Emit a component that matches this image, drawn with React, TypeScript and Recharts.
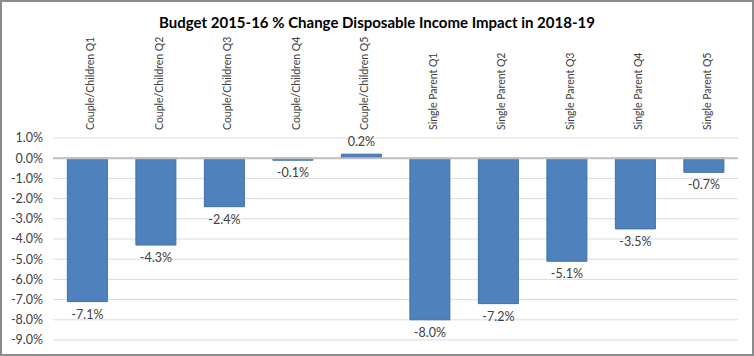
import { BarChart, Bar, XAxis, YAxis, CartesianGrid, ReferenceLine, LabelList } from "recharts";

// categories and values
const categories = [
  "Couple/Children Q1",
  "Couple/Children Q2",
  "Couple/Children Q3",
  "Couple/Children Q4",
  "Couple/Children Q5",
  "Single Parent Q1",
  "Single Parent Q2",
  "Single Parent Q3",
  "Single Parent Q4",
  "Single Parent Q5",
];
const changes = [-7.1, -4.3, -2.4, -0.1, 0.2, -8.0, -7.2, -5.1, -3.5, -0.7];
const yTicks = [1, 0, -1, -2, -3, -4, -5, -6, -7, -8, -9];

const data = categories.map((name, i) => ({ name, change: changes[i] }));

const FONT = "Lato, 'Open Sans', sans-serif";
const TEXT = "#404040";

const fmt = (v: number) => `${v.toFixed(1)}%`;

function CategoryTick(props: any) {
  const { x, y, payload } = props;
  const tx = x + 3;
  return (
    <text
      x={tx}
      y={y}
      transform={`rotate(-90, ${tx}, ${y})`}
      textAnchor="start"
      dominantBaseline="central"
      fontSize={10.5}
      fill={TEXT}
      fontFamily={FONT}
    >
      {payload.value}
    </text>
  );
}

function ValueLabel(props: any) {
  const { x, y, width, height, value } = props;
  const top = Math.min(y, y + height);
  const bottom = Math.max(y, y + height);
  const cx = x + width / 2;
  const ly = value < 0 ? bottom + 17 : top - 8;
  return (
    <text x={cx} y={ly} textAnchor="middle" fontSize={12.5} fill={TEXT} fontFamily={FONT}>
      {fmt(value)}
    </text>
  );
}

export default function App() {
  return (
    <div
      style={{
        position: "absolute",
        left: 0,
        top: 0,
        width: 754,
        height: 356,
        boxSizing: "border-box",
        border: "2px solid #8c8c8c",
        background: "#fff",
      }}
    >
      <div
        style={{
          position: "absolute",
          left: 0,
          right: 0,
          top: 11,
          textAlign: "center",
          fontFamily: FONT,
          fontWeight: "bold",
          fontSize: 15,
          color: "#000",
        }}
      >
        Budget 2015-16 % Change Disposable Income Impact in 2018-19
      </div>
      <div style={{ position: "absolute", left: -2, top: -2 }}>
        <BarChart
          width={754}
          height={356}
          data={data}
          margin={{ top: 8, right: 16, bottom: 16, left: 0 }}
          barCategoryGap="21%"
        >
          <CartesianGrid vertical={false} stroke="#dcdcdc" />
          <XAxis
            dataKey="name"
            orientation="top"
            height={130}
            axisLine={false}
            tickLine={false}
            interval={0}
            tick={<CategoryTick />}
            tickSize={0}
            tickMargin={8}
          />
          <YAxis
            domain={[-9, 1]}
            ticks={yTicks}
            interval={0}
            width={53}
            axisLine={false}
            tickLine={false}
            tickSize={0}
            tickMargin={10}
            tickFormatter={fmt}
            tick={{ fontSize: 12.5, fill: TEXT, fontFamily: FONT }}
          />
          <ReferenceLine y={0} stroke="#bfbfbf" strokeWidth={2} />
          <Bar dataKey="change" fill="#4f81bd" stroke="#3f70ae" strokeWidth={1} isAnimationActive={false}>
            <LabelList dataKey="change" content={<ValueLabel />} />
          </Bar>
        </BarChart>
      </div>
    </div>
  );
}
